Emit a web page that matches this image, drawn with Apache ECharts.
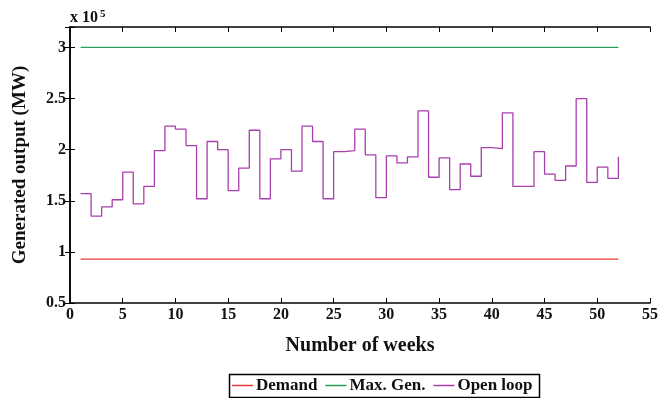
<!DOCTYPE html>
<html>
<head>
<meta charset="utf-8">
<script src="https://cdn.jsdelivr.net/npm/echarts@6/dist/echarts.min.js"></script>
<style>
  html, body { margin: 0; padding: 0; background: #fff; }
  #main { width: 668px; height: 398px; }
</style>
</head>
<body>
<div id="main"></div>
<script>
// weekly values, MW
var weeks = Array.from({length: 52}, (_, i) => i + 1)
var openLoop = [
    157000, 135000, 144000, 151000, 178000, 147000, 164000, 199000, 223000, 220000,
    204000, 152000, 208000, 200000, 160000, 182000, 219000, 152000, 191000, 200000,
    179000, 223000, 208000, 152000, 198000, 199000, 220000, 195000, 153000, 194000,
    187000, 193000, 238000, 173000, 192000, 161000, 186000, 174000, 202000, 201000,
    236000, 164000, 164000, 198000, 176000, 170000, 184000, 250000, 168000, 183000,
    172000, 193000
]
var demand = 93000
var maxGen = 300000

var seriesNames = ['Demand', 'Max. Gen.', 'Open loop']
var colors = ['#ee3a3a', '#2a9d5a', '#a83fae']

var font = '"Liberation Serif", "DejaVu Serif", serif'

var myChart = echarts.init(document.getElementById('main'))

var tickLabel = (v) => {
    var s = v / 1e5
    return Number.isInteger(s) ? String(s) : s.toFixed(1)
}

var axisCommon = {
    type: 'value',
    splitLine: { show: false },
    axisLine: { show: true, lineStyle: { color: '#000', width: 1.5 } },
    axisTick: { show: true, inside: true, length: 5, lineStyle: { color: '#000', width: 1 } }
}

var option = {
    animation: false,
    backgroundColor: '#fff',
    color: colors,
    grid: { left: 70, right: 18, top: 27, bottom: 95 },
    legend: {
        data: seriesNames,
        left: 232,
        top: 377,
        padding: 0,
        itemGap: 8,
        itemWidth: 21,
        itemHeight: 1.5,
        icon: 'rect',
        borderWidth: 0,
        textStyle: { fontFamily: font, fontWeight: 'bold', fontSize: 17, color: '#111', padding: [0, 0, 0, -2] }
    },
    xAxis: [{
        ...axisCommon,
        min: 0, max: 55, interval: 5,
        name: 'Number of weeks',
        nameLocation: 'middle',
        nameGap: 33,
        nameTextStyle: { fontFamily: font, fontWeight: 'bold', fontSize: 20, color: '#111' },
        axisLabel: { fontFamily: font, fontWeight: 'bold', fontSize: 16, color: '#111', margin: 4 }
    }, {
        ...axisCommon,
        position: 'top',
        min: 0, max: 55, interval: 5,
        axisLabel: { show: false }
    }],
    yAxis: [{
        ...axisCommon,
        min: 50000, max: 320000, interval: 50000,
        name: 'Generated output (MW)',
        nameLocation: 'middle',
        nameGap: 40,
        nameTextStyle: { fontFamily: font, fontWeight: 'bold', fontSize: 19, color: '#111' },
        axisLabel: {
            fontFamily: font, fontWeight: 'bold', fontSize: 16, color: '#111', margin: 4,
            formatter: (v) => v % 50000 === 0 ? tickLabel(v) : ''
        }
    }, {
        ...axisCommon,
        position: 'right',
        min: 50000, max: 320000, interval: 50000,
        axisLabel: { show: false }
    }],
    graphic: [{
        type: 'text',
        left: 70,
        top: 9,
        style: {
            text: '{a|x 10}{b|5}',
            rich: {
                a: { fontFamily: font, fontWeight: 'bold', fontSize: 16, fill: '#111' },
                b: { fontFamily: font, fontWeight: 'bold', fontSize: 11, fill: '#111', verticalAlign: 'top', padding: [0, 0, 6, 2] }
            }
        }
    }, {
        type: 'rect',
        left: 227,
        top: 372,
        shape: { width: 310, height: 23 },
        style: { fill: 'none', stroke: '#000', lineWidth: 1.5 }
    }],
    series: [{
        name: seriesNames[0],
        type: 'line',
        showSymbol: false,
        lineStyle: { width: 1.3, color: colors[0] },
        data: weeks.map(w => [w, demand])
    }, {
        name: seriesNames[1],
        type: 'line',
        showSymbol: false,
        lineStyle: { width: 1.3, color: colors[1] },
        data: weeks.map(w => [w, maxGen])
    }, {
        name: seriesNames[2],
        type: 'line',
        step: 'end',
        showSymbol: false,
        lineStyle: { width: 1.3, color: colors[2] },
        data: weeks.map((w, i) => [w, openLoop[i]])
    }]
}

myChart.setOption(option)
</script>
</body>
</html>
